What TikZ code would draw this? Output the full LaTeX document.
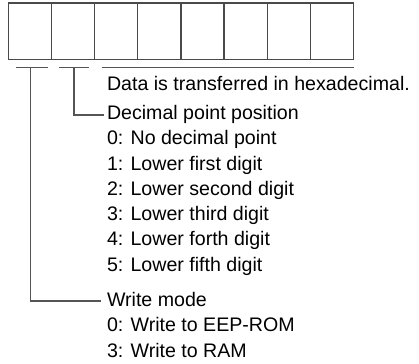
\documentclass[tikz,border=0pt]{standalone}
\usepackage{fontspec}
\setmainfont{Liberation Sans}
\definecolor{linegray}{HTML}{4A4A4A}
\definecolor{conngray}{HTML}{555555}
\begin{document}
\begin{tikzpicture}[x=1pt,y=-1pt,
  cell/.style={draw=linegray,line width=1.2pt},
  uline/.style={draw=conngray,line width=1.2pt},
  conn/.style={draw=conngray,line width=1.2pt},
  lbl/.style={anchor=base west,inner sep=0pt,outer sep=0pt,font=\fontsize{19.6}{24}\selectfont}]
\useasboundingbox (0,0) rectangle (419,363);
% cells
\foreach \i in {0,...,7}{
  \draw[cell] ({8.3+43.15*\i},3) rectangle ({8.3+43.15*(\i+1)},59.5);
}
% underlines
\coordinate (u1a) at (16,67.7);
\coordinate (u1b) at (48.3,67.7);
\coordinate (u2a) at (59.3,67.7);
\coordinate (u2b) at (89.3,67.7);
\coordinate (u3a) at (101.7,67.7);
\coordinate (u3b) at (353.5,67.7);
\draw[uline] (u1a) -- (u1b);
\draw[uline] (u2a) -- (u2b);
\draw[uline] (u3a) -- (u3b);
% labels
\node[lbl] (data) at (107,91) {Data is transferred in hexadecimal.};
\node[lbl] (dec) at (107,119.5) {Decimal point position};
\node[lbl] (d0) at (107,145) {0: No decimal point};
\node[lbl] (d1) at (107,170.2) {1: Lower first digit};
\node[lbl] (d2) at (107,195.4) {2: Lower second digit};
\node[lbl] (d3) at (107,220.6) {3: Lower third digit};
\node[lbl] (d4) at (107,245.8) {4: Lower forth digit};
\node[lbl] (d5) at (107,271) {5: Lower fifth digit};
\node[lbl] (wm) at (107,306.5) {Write mode};
\node[lbl] (w0) at (107,331.8) {0: Write to EEP-ROM};
\node[lbl] (w3) at (107,357) {3: Write to RAM};
% connectors
\coordinate (c2top) at (74,67.7);
\coordinate (c2end) at (104,115);
\coordinate (c1top) at (30.5,67.7);
\coordinate (c1end) at (101,301);
\draw[conn] (c2top) |- (c2end);
\draw[conn] (c1top) |- (c1end);
\end{tikzpicture}
\end{document}
